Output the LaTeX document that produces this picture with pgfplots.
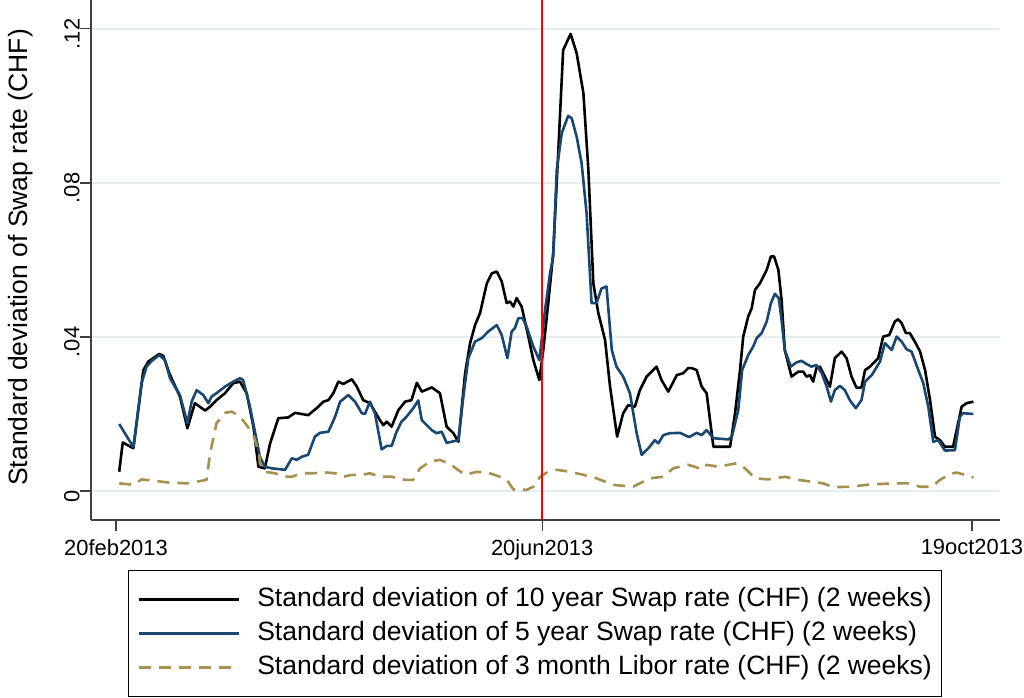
\documentclass[border=0pt]{standalone}
\usepackage{fontspec}
\setmainfont{Liberation Sans}
\usepackage{pgfplots}
\pgfplotsset{compat=1.18}
\definecolor{stnavy}{RGB}{26,71,111}
\definecolor{stkhaki}{RGB}{165,145,80}
\definecolor{stgrid}{RGB}{228,237,240}
\begin{document}
\begin{tikzpicture}
\begin{axis}[
  at={(0,0)}, anchor=south west,
  scale only axis, width=454.5bp, height=260bp,
  xmin=-7.04, xmax=248.9, ymin=-0.00753, ymax=0.1275,
  axis lines=left, axis line style={line width=0.6bp, color=black!75, -},
  xtick={0,120,241}, xticklabels={20feb2013,20jun2013,19oct2013},
  ytick={0,0.04,0.08,0.12}, yticklabels={0,.04,.08,.12},
  tick align=outside, major tick length=5.5bp, tick style={line width=0.6bp, black!75},
  ymajorgrids, grid style={stgrid, line width=1bp},
  x tick label style={font=\fontsize{11}{13}\selectfont, inner sep=0pt, anchor=north, yshift=-4bp},
  y tick label style={font=\fontsize{11}{13}\selectfont, rotate=90, anchor=south, inner sep=0pt, xshift=-2.5bp},
  ylabel={Standard deviation of Swap rate (CHF)},
  ylabel style={font=\fontsize{13.3}{15}\selectfont, at={(axis description cs:-0.077,0.505)}, anchor=center},
  no markers,
  every axis plot/.append style={line width=1.3bp, line join=round},
  legend cell align=left,
  legend style={at={(axis description cs:0.0407,-0.0962)}, anchor=north west, draw=black, line width=0.5bp, fill=white,
    inner xsep=4.6bp, inner ysep=8.5bp, font=\fontsize{13.3}{15}\selectfont, row sep=5bp,
    nodes={inner sep=0pt, text height=9.5bp, text depth=2.5bp},
    /tikz/every odd column/.append style={column sep=8.5bp},
    /tikz/every even column/.append style={column sep=0bp}},
  legend image code/.code={\draw[#1, line width=1.3bp] (0bp,0bp) -- (50bp,0bp);},
]
\addplot[black] coordinates {(0.9,0.0050)(1.9,0.0126)(4.9,0.0111)(7.7,0.0314)(9.1,0.0336)(10.5,0.0345)(12.2,0.0356)(13.3,0.0351)(15.0,0.0306)(18.0,0.0245)(20.1,0.0163)(22.2,0.0228)(25.1,0.0209)(26.5,0.0219)(28.3,0.0236)(30.7,0.0254)(33.0,0.0280)(34.9,0.0284)(36.8,0.0254)(38.7,0.0167)(40.1,0.0063)(41.9,0.0059)(43.4,0.0124)(45.7,0.0189)(48.5,0.0191)(50.4,0.0203)(54.1,0.0197)(56.5,0.0215)(58.4,0.0232)(59.8,0.0236)(61.2,0.0254)(62.6,0.0284)(64.0,0.0278)(66.4,0.0290)(67.8,0.0271)(69.6,0.0236)(71.5,0.0228)(74.3,0.0184)(75.3,0.0171)(76.2,0.0180)(77.6,0.0167)(79.5,0.0210)(81.4,0.0232)(83.2,0.0236)(84.7,0.0281)(86.1,0.0258)(88.9,0.0269)(91.2,0.0254)(93.1,0.0167)(95.0,0.0150)(96.4,0.0128)(98.3,0.0306)(99.7,0.0384)(101.1,0.0431)(102.5,0.0462)(104.4,0.0539)(105.8,0.0565)(107.2,0.0570)(108.6,0.0544)(110.0,0.0488)(110.9,0.0492)(111.9,0.0479)(112.8,0.0501)(114.2,0.0479)(116.1,0.0401)(117.5,0.0340)(119.2,0.0288)(120.3,0.0366)(121.7,0.0488)(123.1,0.0617)(124.5,0.0877)(125.9,0.1145)(128.0,0.1187)(129.7,0.1137)(131.6,0.1033)(133.0,0.0834)(134.4,0.0539)(135.8,0.0462)(137.7,0.0392)(139.1,0.0271)(141.1,0.0141)(142.8,0.0202)(144.2,0.0223)(146.1,0.0219)(147.5,0.0262)(149.4,0.0297)(152.2,0.0323)(153.6,0.0288)(155.5,0.0258)(157.9,0.0301)(159.7,0.0306)(161.1,0.0319)(162.1,0.0319)(163.5,0.0314)(164.9,0.0271)(166.3,0.0254)(168.2,0.0115)(172.9,0.0115)(174.3,0.0202)(175.7,0.0314)(176.6,0.0401)(178.0,0.0453)(179.0,0.0475)(179.9,0.0522)(181.3,0.0539)(183.2,0.0574)(184.4,0.0609)(185.3,0.0609)(186.5,0.0574)(187.4,0.0496)(188.3,0.0366)(190.2,0.0297)(192.1,0.0310)(193.5,0.0310)(194.4,0.0297)(195.4,0.0301)(196.3,0.0284)(197.2,0.0319)(198.2,0.0323)(199.6,0.0297)(201.0,0.0271)(202.4,0.0345)(204.3,0.0362)(205.7,0.0345)(207.1,0.0297)(208.5,0.0268)(209.9,0.0269)(210.9,0.0314)(212.3,0.0323)(214.6,0.0345)(216.0,0.0401)(217.7,0.0405)(219.3,0.0440)(220.2,0.0446)(221.2,0.0436)(222.4,0.0410)(223.5,0.0410)(224.9,0.0388)(226.4,0.0362)(227.8,0.0314)(229.2,0.0236)(230.6,0.0141)(232.0,0.0132)(233.4,0.0115)(235.7,0.0115)(237.1,0.0176)(238.1,0.0219)(239.5,0.0228)(241.4,0.0232)};
\addlegendentry{Standard deviation of 10 year Swap rate (CHF) (2 weeks)}
\addplot[stnavy] coordinates {(0.9,0.0174)(4.9,0.0114)(7.2,0.0280)(8.6,0.0323)(10.1,0.0338)(12.2,0.0353)(13.8,0.0340)(15.2,0.0293)(18.0,0.0249)(20.1,0.0176)(21.3,0.0232)(22.7,0.0262)(24.6,0.0249)(26.0,0.0228)(26.9,0.0245)(28.3,0.0254)(30.7,0.0271)(33.0,0.0284)(34.9,0.0293)(35.8,0.0288)(37.7,0.0219)(39.6,0.0132)(40.5,0.0089)(41.9,0.0063)(43.8,0.0059)(47.6,0.0055)(49.5,0.0085)(50.9,0.0081)(52.3,0.0089)(54.1,0.0094)(56.0,0.0141)(57.4,0.0151)(59.8,0.0154)(61.7,0.0193)(63.1,0.0232)(65.4,0.0249)(67.3,0.0232)(69.2,0.0202)(70.1,0.0200)(71.5,0.0232)(72.9,0.0202)(74.8,0.0108)(76.2,0.0117)(77.6,0.0117)(79.0,0.0154)(80.4,0.0180)(81.8,0.0193)(83.7,0.0215)(85.1,0.0235)(86.1,0.0184)(88.9,0.0158)(90.3,0.0150)(91.7,0.0154)(93.1,0.0125)(96.4,0.0132)(97.8,0.0245)(99.2,0.0345)(101.1,0.0388)(103.0,0.0397)(104.8,0.0414)(107.2,0.0431)(108.6,0.0405)(110.2,0.0345)(111.4,0.0414)(112.3,0.0423)(113.3,0.0449)(114.5,0.0449)(115.6,0.0427)(117.5,0.0375)(119.2,0.0340)(120.8,0.0470)(122.2,0.0565)(123.1,0.0609)(124.1,0.0834)(125.5,0.0929)(127.3,0.0974)(128.3,0.0968)(129.7,0.0920)(131.1,0.0851)(132.5,0.0721)(133.9,0.0488)(135.3,0.0488)(136.7,0.0526)(138.1,0.0531)(139.6,0.0366)(140.9,0.0323)(142.8,0.0297)(144.7,0.0254)(146.6,0.0150)(148.0,0.0094)(149.9,0.0111)(151.7,0.0132)(152.7,0.0124)(154.1,0.0145)(155.9,0.0150)(158.8,0.0151)(161.1,0.0141)(161.6,0.0141)(163.5,0.0151)(164.9,0.0145)(166.3,0.0158)(168.2,0.0137)(172.4,0.0134)(173.4,0.0141)(175.2,0.0210)(176.3,0.0314)(178.0,0.0353)(179.4,0.0375)(180.4,0.0397)(181.8,0.0410)(183.2,0.0440)(184.4,0.0488)(185.5,0.0512)(186.6,0.0501)(187.4,0.0444)(188.3,0.0366)(190.0,0.0323)(191.6,0.0334)(193.0,0.0338)(194.4,0.0330)(195.8,0.0323)(197.2,0.0327)(198.7,0.0306)(200.1,0.0271)(201.3,0.0232)(202.4,0.0262)(203.8,0.0273)(205.2,0.0262)(206.6,0.0236)(208.3,0.0215)(209.9,0.0236)(210.9,0.0284)(212.8,0.0301)(215.1,0.0336)(216.5,0.0384)(218.4,0.0366)(219.8,0.0401)(221.2,0.0388)(222.6,0.0368)(224.0,0.0362)(225.9,0.0314)(227.3,0.0280)(228.7,0.0219)(230.1,0.0128)(231.5,0.0132)(233.4,0.0105)(236.2,0.0106)(237.6,0.0193)(238.5,0.0202)(241.4,0.0200)};
\addlegendentry{Standard deviation of 5 year Swap rate (CHF) (2 weeks)}
\addplot[stkhaki, dash pattern=on 6bp off 4bp] coordinates {(0.9,0.0020)(4.9,0.0016)(7.2,0.0030)(10.5,0.0027)(14.7,0.0022)(19.9,0.0020)(22.7,0.0024)(25.5,0.0029)(26.5,0.0098)(28.3,0.0176)(30.7,0.0203)(32.6,0.0206)(34.9,0.0193)(36.8,0.0171)(38.7,0.0145)(40.3,0.0098)(40.5,0.0072)(41.9,0.0050)(44.8,0.0046)(47.6,0.0037)(49.5,0.0037)(52.3,0.0046)(55.1,0.0046)(59.3,0.0048)(61.7,0.0046)(64.0,0.0037)(66.4,0.0042)(69.2,0.0042)(71.5,0.0046)(74.3,0.0037)(77.6,0.0037)(81.4,0.0029)(83.7,0.0029)(85.6,0.0059)(88.4,0.0076)(91.2,0.0081)(94.0,0.0070)(98.3,0.0042)(101.6,0.0050)(105.3,0.0046)(108.1,0.0037)(110.0,0.0029)(111.9,0.0004)(115.6,0.0003)(117.5,0.0011)(119.4,0.0037)(121.7,0.0050)(124.1,0.0055)(127.8,0.0050)(131.6,0.0042)(135.3,0.0033)(140.0,0.0016)(145.6,0.0011)(150.3,0.0033)(154.1,0.0037)(156.9,0.0059)(161.1,0.0068)(163.0,0.0063)(164.9,0.0056)(166.3,0.0068)(169.6,0.0063)(172.4,0.0068)(174.7,0.0072)(177.1,0.0059)(179.9,0.0033)(183.6,0.0030)(188.3,0.0037)(192.1,0.0029)(195.9,0.0024)(199.1,0.0020)(201.9,0.0010)(206.6,0.0011)(212.3,0.0017)(219.8,0.0020)(223.5,0.0020)(226.4,0.0011)(229.7,0.0011)(232.0,0.0029)(234.8,0.0044)(236.7,0.0048)(239.0,0.0042)(241.4,0.0035)};
\addlegendentry{Standard deviation of 3 month Libor rate (CHF) (2 weeks)}
\addplot[red, line width=1bp, forget plot] coordinates {(120,-0.00753)(120,0.1275)};
\end{axis}
\pgfresetboundingbox
\path[use as bounding box] (-45.5bp,-89bp) rectangle (466.5bp,260bp);
\end{tikzpicture}
\end{document}
